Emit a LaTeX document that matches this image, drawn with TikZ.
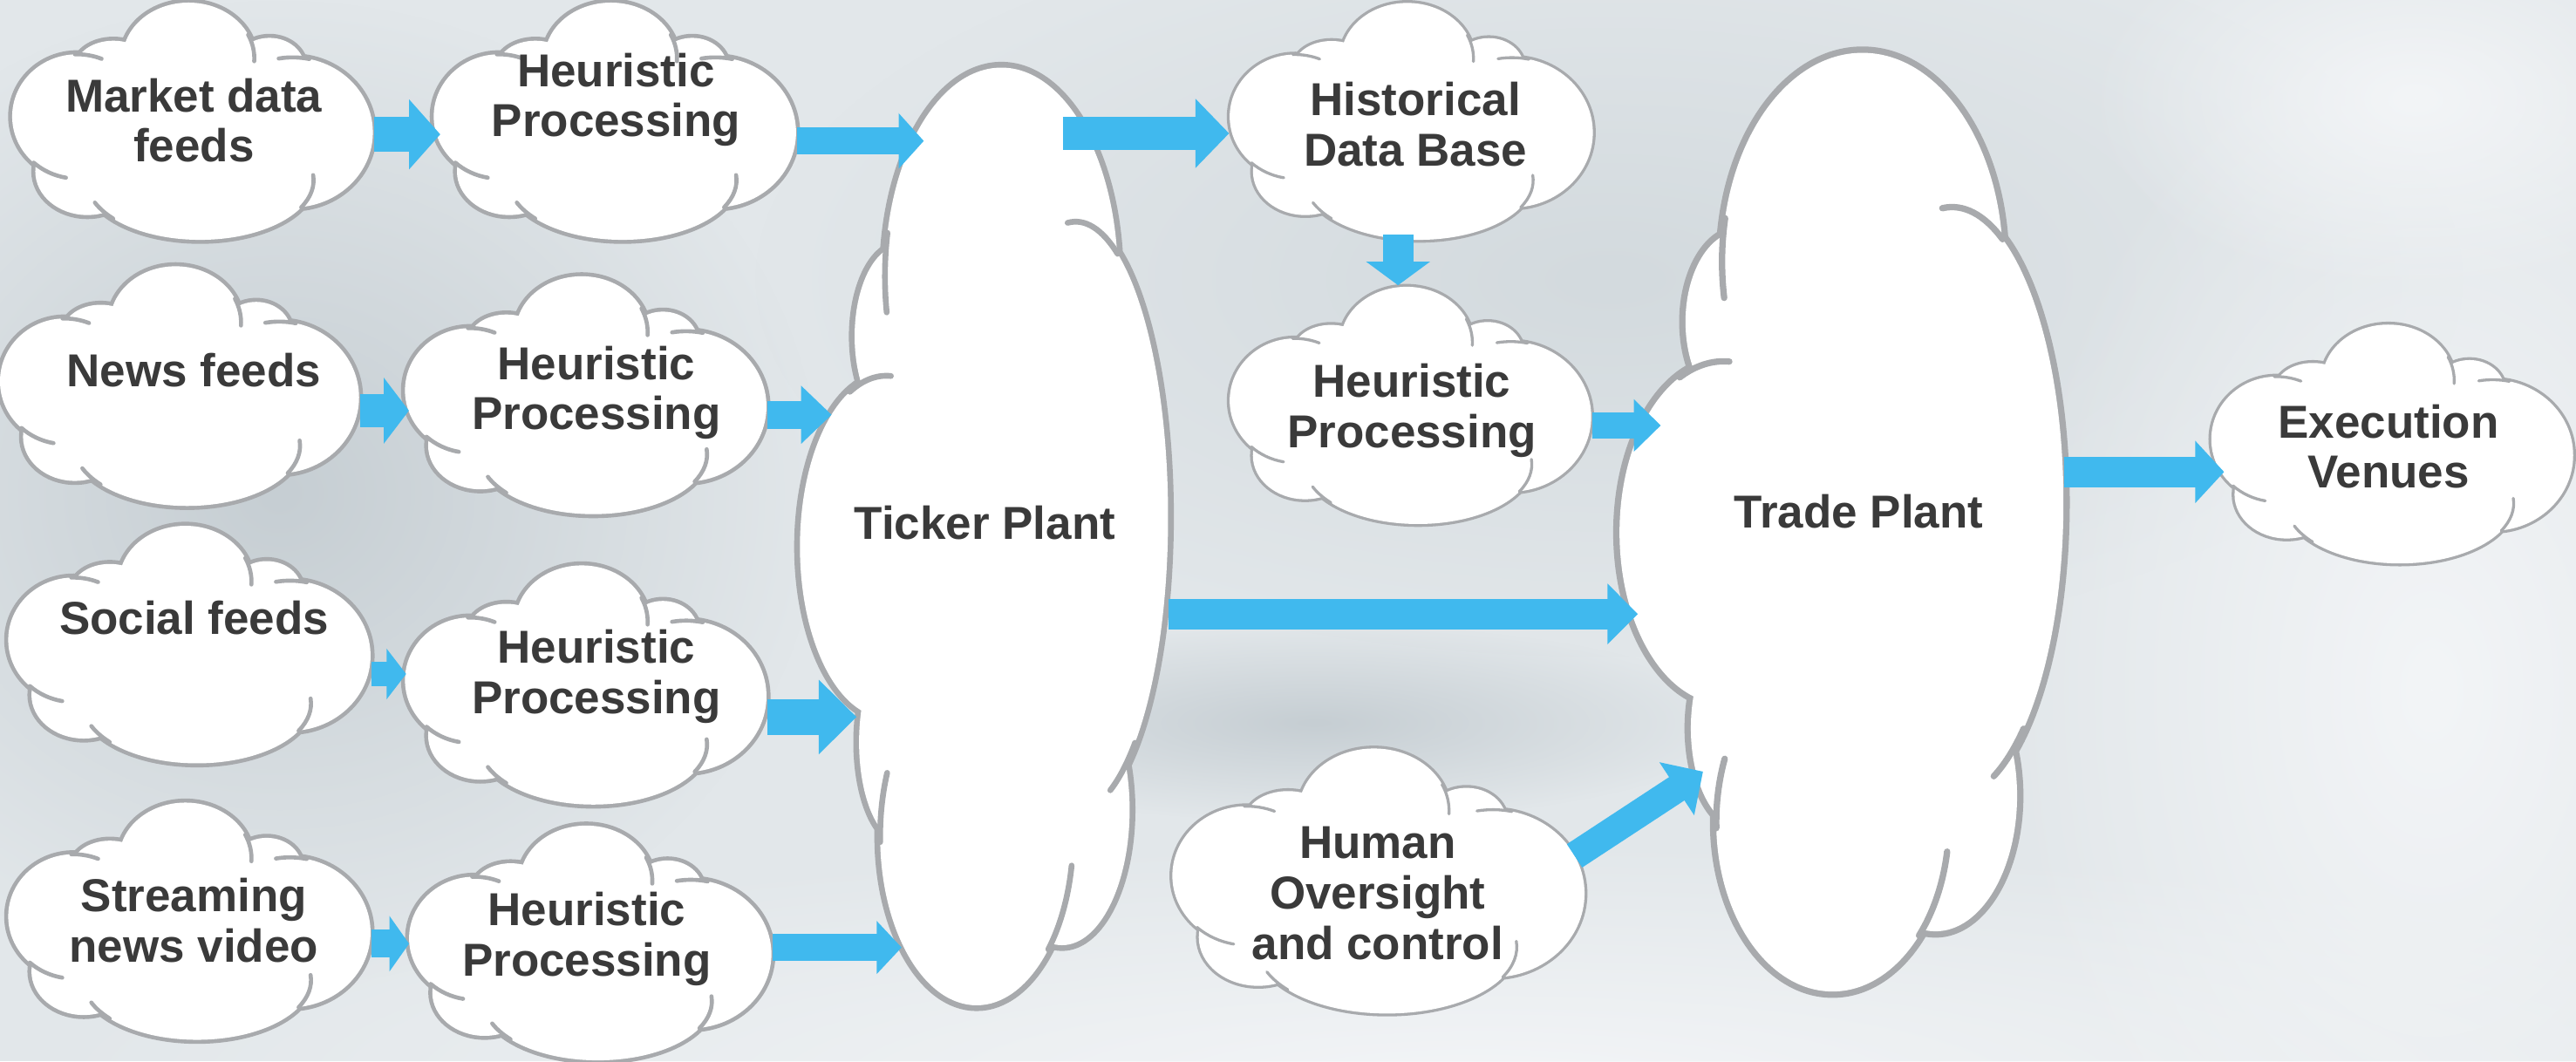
\documentclass[tikz,border=0pt]{standalone}
\usepackage{fontspec}
\setmainfont{Liberation Sans}
\usetikzlibrary{arrows.meta,fadings}

\definecolor{cloudgray}{HTML}{A8AAAD}
\definecolor{flowblue}{HTML}{40B9EE}
\definecolor{inkgray}{HTML}{3A3A3A}
\definecolor{bgbase}{HTML}{E2E7EA}
\definecolor{bgdark}{HTML}{C6CED3}
\definecolor{bgmid}{HTML}{D3DADE}
\definecolor{bglight}{HTML}{F3F5F7}

\newcommand\lblfont{\fontsize{16}{17.4}\selectfont\bfseries}

% Cloud in a unit box (u to the right, v downwards): seven lobes,
% a core that fills the middle, and the creases where lobes overlap.
\newcommand\cloudlobes{
  (0.180,0.482) ellipse [x radius=0.180, y radius=0.261]
  (0.280,0.274) ellipse [x radius=0.104, y radius=0.110]
  (0.488,0.238) ellipse [x radius=0.182, y radius=0.234]
  (0.712,0.274) ellipse [x radius=0.096, y radius=0.122]
  (0.776,0.549) ellipse [x radius=0.222, y radius=0.315]
  (0.520,0.750) ellipse [x radius=0.314, y radius=0.250]
  (0.208,0.713) ellipse [x radius=0.144, y radius=0.183]}
\newcommand\cloudcore{(0.5,0.5) ellipse [x radius=0.35, y radius=0.30]}
\newcommand\cloudcreases{
  (0.180,0.482) ++(-92:0.180 and 0.261) arc[start angle=-92, end angle=-68, x radius=0.180, y radius=0.261]
  (0.488,0.238) ++(-25:0.182 and 0.234) arc[start angle=-25, end angle=3, x radius=0.182, y radius=0.234]
  (0.776,0.549) ++(-78:0.222 and 0.315) arc[start angle=-78, end angle=-100, x radius=0.222, y radius=0.315]
  (0.520,0.750) ++(27:0.314 and 0.250) arc[start angle=27, end angle=-5, x radius=0.314, y radius=0.250]
  (0.520,0.750) ++(140:0.314 and 0.250) arc[start angle=140, end angle=158, x radius=0.314, y radius=0.250]
  (0.180,0.482) ++(132:0.180 and 0.261) arc[start angle=132, end angle=100, x radius=0.180, y radius=0.261]}

% #1 outline width; drawn inside a scope that maps the unit box
\newcommand\cloudbody[1]{%
  \draw[cloudgray, line width=2*#1] \cloudlobes;
  \fill[white] \cloudlobes \cloudcore;
  \draw[cloudgray, line width=#1, line cap=round] \cloudcreases;
}
% #1 name, #2 left, #3 top, #4 width, #5 height, #6 outline width
\newcommand\cloudat[6]{%
  \begin{scope}[shift={(#2,#3)}, x={(#4*0.02cm,0cm)}, y={(0cm,-#5*0.02cm)}]
    \cloudbody{#6}
  \end{scope}
  \node[cloudbox, minimum width=#4*0.02cm, minimum height=#5*0.02cm]
    (#1) at (#2+#4/2, #3+#5/2) {};
}
% same cloud turned a quarter turn anticlockwise
\newcommand\tallcloudat[6]{%
  \begin{scope}[shift={(#2,#3+#5)}, x={(0cm,#5*0.02cm)}, y={(#4*0.02cm,0cm)}]
    \cloudbody{#6}
  \end{scope}
  \node[cloudbox, minimum width=#4*0.02cm, minimum height=#5*0.02cm]
    (#1) at (#2+#4/2, #3+#5/2) {};
}

\tikzfading[name=softblob, inner color=transparent!0, outer color=transparent!100]

\begin{document}
\begin{tikzpicture}[x=0.02cm, y=-0.02cm,
  cloudbox/.style={draw=none, inner sep=0pt, rectangle},
  lbl/.style={text=inkgray, font=\lblfont, align=center, inner sep=0pt},
  flow/.style n args={3}{draw=flowblue, line width=#1cm,
    -{Triangle[width=#2cm, length=#3cm]}},
]
\useasboundingbox (0,0) rectangle (1568,646);

% soft grey backdrop
\fill[bgbase] (0,0) rectangle (1568,646);
\fill[bgdark, path fading=softblob] (170,300) ellipse [x radius=330, y radius=300];
\fill[bgmid, path fading=softblob] (980,170) ellipse [x radius=520, y radius=230];
\fill[bgdark, path fading=softblob] (800,440) ellipse [x radius=260, y radius=60];
\fill[bglight, path fading=softblob] (900,660) ellipse [x radius=900, y radius=150];
\fill[bglight, path fading=softblob] (1480,420) ellipse [x radius=260, y radius=420];
\fill[bglight, path fading=softblob] (1470,60) ellipse [x radius=200, y radius=120];

% clouds
\cloudat{md}{7.4}{1}{220}{145}{1.4pt}
\cloudat{h1}{264}{1}{221}{145}{1.4pt}
\cloudat{nf}{0}{161.5}{219}{146.5}{1.4pt}
\cloudat{h2}{246.5}{167.6}{220.5}{145.4}{1.4pt}
\cloudat{sf}{5}{319.5}{221}{145.2}{1.4pt}
\cloudat{h3}{246.5}{343.6}{220.5}{146.2}{1.4pt}
\cloudat{sn}{5}{488}{221}{145}{1.4pt}
\cloudat{h4}{249}{502}{221}{143.5}{1.4pt}
\tallcloudat{tp}{486}{40}{225}{572}{2pt}
\cloudat{hd}{748.5}{1.2}{221.5}{144.8}{1pt}
\cloudat{hm}{748.5}{174}{220.5}{145}{1pt}
\cloudat{ho}{713.6}{455}{251.4}{162}{1pt}
\tallcloudat{trp}{984.7}{31}{271.3}{572.6}{2.2pt}
\cloudat{ev}{1346}{197}{220.7}{146}{1pt}

% arrow ports on the cloud rims
\coordinate (h1-in) at (268,81.8);
\coordinate (tp-in1) at (562.3,85.8);
\coordinate (h2-in) at (248.9,250);
\coordinate (tp-in2) at (506.2,252.5);
\coordinate (h3-in) at (247.2,410.3);
\coordinate (tp-in3) at (521.4,436.5);
\coordinate (h4-in) at (249,574.5);
\coordinate (tp-in4) at (548.8,576.8);
\coordinate (tp-out) at (647,81.2);
\coordinate (hd-out) at (851,143);
\coordinate (trp-in1) at (1010.9,259);
\coordinate (trp-in2) at (997,373.8);
\coordinate (ho-out) at (958.4,521);
\coordinate (trp-in3) at (1036.6,469.7);
\coordinate (ev-in) at (1353.8,287.3);

% block arrows
\draw[flow={0.43}{0.832}{0.38}] (md.east |- h1-in) -- (h1-in);
\draw[flow={0.33}{0.66}{0.306}] (h1.east |- tp-in1) -- (tp-in1);
\draw[flow={0.40}{0.788}{0.306}] (nf.east |- h2-in) -- (h2-in);
\draw[flow={0.34}{0.686}{0.372}] (h2.east |- tp-in2) -- (tp-in2);
\draw[flow={0.294}{0.606}{0.238}] (sf.east |- h3-in) -- (h3-in);
\draw[flow={0.44}{0.88}{0.46}] (h3.east |- tp-in3) -- (tp-in3);
\draw[flow={0.34}{0.668}{0.24}] (sn.east |- h4-in) -- (h4-in);
\draw[flow={0.328}{0.63}{0.304}] (h4.east |- tp-in4) -- (tp-in4);
\draw[flow={0.41}{0.82}{0.41}] (tp-out) -- (hd.west |- tp-out);
\draw[flow={0.372}{0.766}{0.288}] (hd-out) -- (hm.north -| hd-out);
\draw[flow={0.32}{0.62}{0.328}] (hm.east |- trp-in1) -- (trp-in1);
\draw[flow={0.368}{0.72}{0.372}] (tp.east |- trp-in2) -- (trp-in2);
\draw[flow={0.34}{0.75}{0.382}] (ho-out) -- (trp-in3);
\draw[flow={0.372}{0.74}{0.352}] (trp.east |- ev-in) -- (ev-in);

% labels
\node[lbl] (md-t) at (118,73.3) {Market data\\feeds};
\node[lbl] (h1-t) at (375,60.7) {Heuristic\\Processing};
\node[lbl] (nf-t) at (118,225.5) {News feeds};
\node[lbl] (h2-t) at (363,239) {Heuristic\\Processing};
\node[lbl] (sf-t) at (118.2,376) {Social feeds};
\node[lbl] (h3-t) at (363,412) {Heuristic\\Processing};
\node[lbl] (sn-t) at (118,560.4) {Streaming\\news video};
\node[lbl] (h4-t) at (357.2,571.5) {Heuristic\\Processing};
\node[lbl] (tp-t) at (599.5,318.5) {Ticker Plant};
\node[lbl] (hd-t) at (861.6,75.7) {Historical\\Data Base};
\node[lbl] (hm-t) at (859.4,250) {Heuristic\\Processing};
\node[lbl] (ho-t) at (838.6,543.8) {Human\\Oversight\\and control};
\node[lbl] (trp-t) at (1131.5,311.4) {Trade Plant};
\node[lbl] (ev-t) at (1453.8,271.8) {Execution\\Venues};
\end{tikzpicture}
\end{document}
